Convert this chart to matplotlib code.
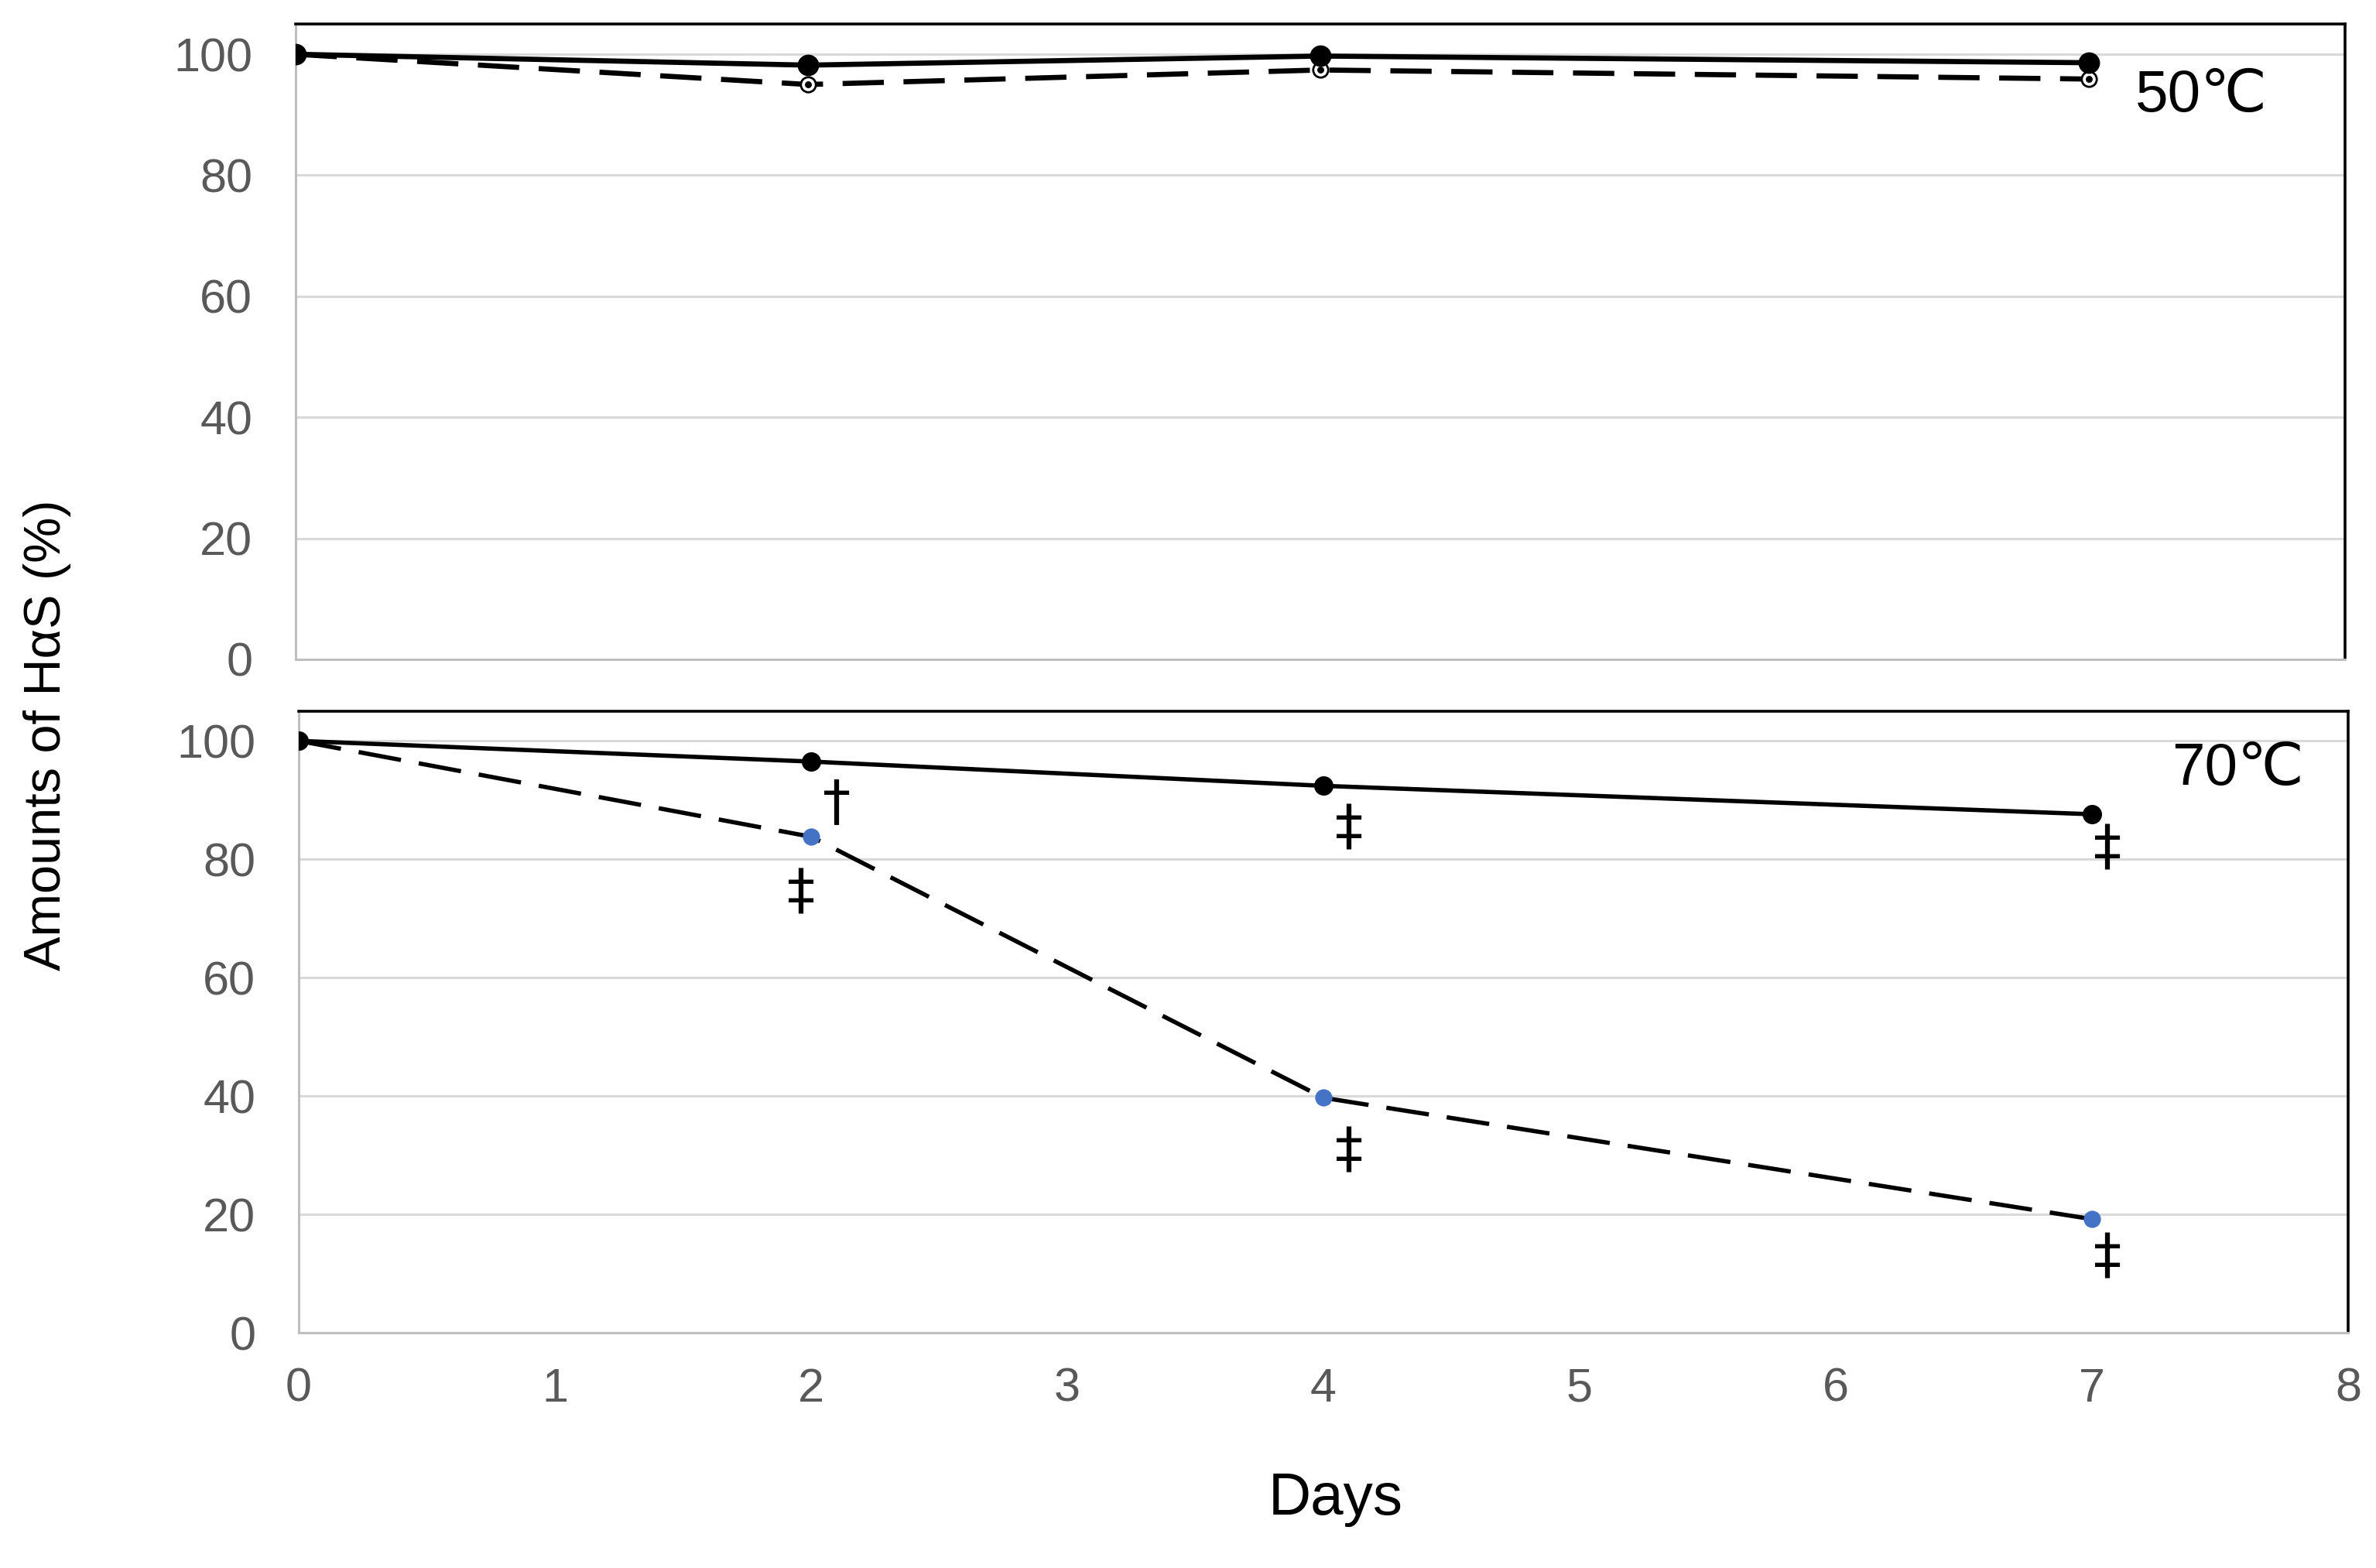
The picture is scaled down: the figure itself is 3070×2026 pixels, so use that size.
import matplotlib
matplotlib.use("Agg")
import matplotlib.pyplot as plt

plt.rcParams['font.family'] = ['Liberation Sans', 'DejaVu Sans']

days = [0, 2, 4, 7]

# 50 C panel
top_solid = [100, 98.2, 99.7, 98.6]
top_dashed = [100, 95.0, 97.4, 95.9]

# 70 C panel
bot_solid = [100, 96.5, 92.4, 87.6]
bot_dashed = [100, 83.8, 39.7, 19.2]

# significance marks: (day, value, symbol)
marks_x = [2.10, 1.96, 4.10, 7.06, 4.10, 7.06]
marks_y = [89.3, 74.2, 85.0, 81.6, 30.5, 12.5]
marks_s = ["†", "‡", "‡", "‡", "‡", "‡"]

y_ticks = [0, 20, 40, 60, 80, 100]
x_ticks = [0, 1, 2, 3, 4, 5, 6, 7, 8]

tick_gray = "#595959"
grid_gray = "#D9D9D9"
axis_gray = "#BFBFBF"
blue = "#4472C4"


def style_axes(ax):
    ax.set_xlim(0, 8)
    ax.set_ylim(0, 105)
    ax.set_yticks(y_ticks)
    ax.set_xticks(x_ticks)
    ax.yaxis.grid(True, color=grid_gray, linewidth=1.1)
    ax.set_axisbelow(True)
    for s in ["top", "right"]:
        ax.spines[s].set_color("black")
        ax.spines[s].set_linewidth(1.3)
    for s in ["left", "bottom"]:
        ax.spines[s].set_color(axis_gray)
        ax.spines[s].set_linewidth(1.1)
    ax.tick_params(length=0, labelsize=22, labelcolor=tick_gray)
    ax.tick_params(axis="y", pad=20)
    ax.tick_params(axis="x", pad=16)


fig = plt.figure(figsize=(15.35, 10.13), dpi=200)
ax1 = fig.add_axes([0.1244, 0.5795, 0.8626, 0.4052])
ax2 = fig.add_axes([0.1257, 0.1500, 0.8626, 0.3964])

style_axes(ax1)
ax1.tick_params(axis="x", labelbottom=False)
ax1.plot(days, top_dashed, color="black", linewidth=2.4, dashes=(8, 3.8),
         marker="o", markersize=7, markerfacecolor="white",
         markeredgecolor="black", markeredgewidth=1.0, zorder=3)
ax1.plot(days, top_dashed, linestyle="none", marker="o", markersize=2.2,
         color="black", zorder=4)
ax1.plot(days, top_solid, color="black", linewidth=2.4, marker="o",
         markersize=9, zorder=5)
ax1.text(7.18, 90.6, "50℃", fontsize=27.5, ha="left", va="baseline")

style_axes(ax2)
ax2.plot(days, bot_dashed, color="black", linewidth=2.0, dashes=(10, 4.2),
         marker="o", markersize=7, markerfacecolor=blue,
         markeredgecolor=blue, zorder=3)
ax2.plot(days, bot_solid, color="black", linewidth=2.0, marker="o",
         markersize=8, zorder=4)
ax2.text(7.31, 92.6, "70℃", fontsize=27.5, ha="left", va="baseline")
for mx, my, ms in zip(marks_x, marks_y, marks_s):
    ax2.text(mx, my, ms, fontsize=26, ha="center", va="center",
             family=["DejaVu Sans"])

fig.text(0.020, 0.531, "Amounts of HαS (%)", fontsize=24, rotation=90,
         ha="center", va="center")
fig.text(0.562, 0.034, "Days", fontsize=27.5, ha="center", va="baseline")

fig.savefig("out.png", dpi=200, facecolor="white")
